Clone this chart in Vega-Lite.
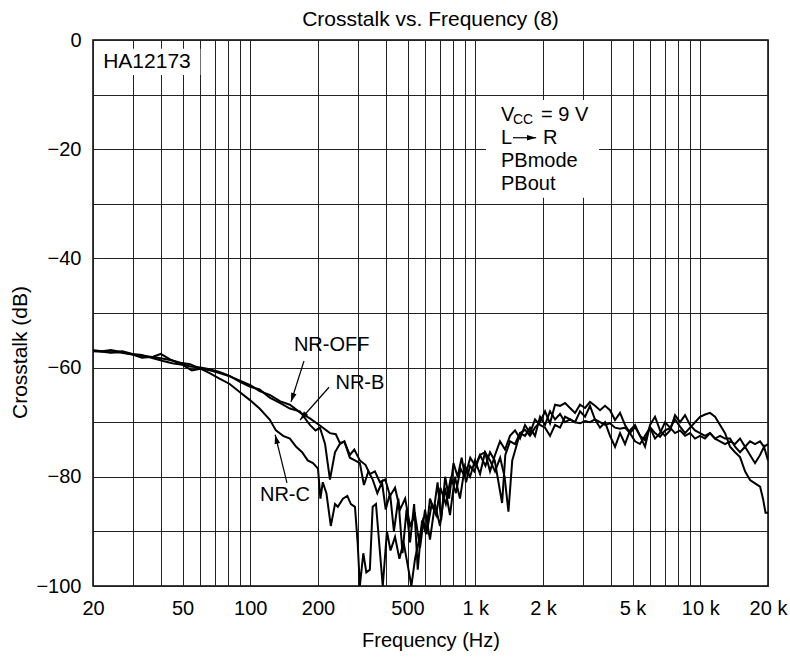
{
"$schema": "https://vega.github.io/schema/vega-lite/v6.json",
"width": 675, "height": 546,
"autosize": "none",
"padding": {"left": 93, "top": 40, "right": 22, "bottom": 76},
"background": "white",
"config": {
 "view": {"stroke": "black", "strokeWidth": 1.5},
 "font": "Liberation Sans",
 "axis": {"domain": false, "ticks": false, "gridColor": "#222", "gridOpacity": 1, "gridWidth": 1, "labelFont": "Liberation Sans", "labelFontSize": 20, "labelColor": "black", "titleFont": "Liberation Sans", "titleFontSize": 20, "titleFontWeight": "normal", "titleColor": "black"}
},
"title": {"text": "Crosstalk vs. Frequency (8)", "fontSize": 21, "fontWeight": "normal", "color": "black", "font": "Liberation Sans", "offset": 0, "anchor": "middle"},
"datasets": {
 "curves": [
{"s":"NR-OFF","f":20,"db":-57.0},{"s":"NR-OFF","f":22,"db":-57.1},{"s":"NR-OFF","f":24,"db":-57.3},{"s":"NR-OFF","f":26,"db":-57.2},{"s":"NR-OFF","f":29,"db":-57.5},{"s":"NR-OFF","f":32,"db":-57.8},{"s":"NR-OFF","f":36,"db":-58.0},{"s":"NR-OFF","f":40,"db":-58.3},{"s":"NR-OFF","f":44,"db":-58.6},{"s":"NR-OFF","f":49,"db":-59.1},{"s":"NR-OFF","f":54,"db":-59.4},{"s":"NR-OFF","f":60,"db":-60.2},{"s":"NR-OFF","f":66,"db":-60.5},{"s":"NR-OFF","f":73,"db":-61.0},{"s":"NR-OFF","f":81,"db":-61.6},{"s":"NR-OFF","f":90,"db":-62.4},{"s":"NR-OFF","f":100,"db":-63.2},{"s":"NR-OFF","f":110,"db":-64.3},{"s":"NR-OFF","f":122,"db":-65.0},{"s":"NR-OFF","f":136,"db":-66.2},{"s":"NR-OFF","f":150,"db":-66.8},{"s":"NR-OFF","f":166,"db":-68.2},{"s":"NR-OFF","f":184,"db":-69.3},{"s":"NR-OFF","f":204,"db":-70.6},{"s":"NR-OFF","f":226,"db":-72.0},{"s":"NR-OFF","f":240,"db":-72.2},{"s":"NR-OFF","f":250,"db":-73.8},{"s":"NR-OFF","f":262,"db":-73.6},{"s":"NR-OFF","f":277,"db":-76.0},{"s":"NR-OFF","f":290,"db":-75.0},{"s":"NR-OFF","f":307,"db":-77.0},{"s":"NR-OFF","f":325,"db":-77.8},{"s":"NR-OFF","f":340,"db":-79.5},{"s":"NR-OFF","f":358,"db":-79.0},{"s":"NR-OFF","f":377,"db":-81.0},{"s":"NR-OFF","f":398,"db":-80.5},{"s":"NR-OFF","f":418,"db":-83.5},{"s":"NR-OFF","f":440,"db":-82.0},{"s":"NR-OFF","f":463,"db":-86.0},{"s":"NR-OFF","f":488,"db":-84.0},{"s":"NR-OFF","f":513,"db":-89.0},{"s":"NR-OFF","f":540,"db":-87.0},{"s":"NR-OFF","f":568,"db":-93.0},{"s":"NR-OFF","f":598,"db":-86.0},{"s":"NR-OFF","f":629,"db":-91.5},{"s":"NR-OFF","f":662,"db":-85.0},{"s":"NR-OFF","f":697,"db":-89.0},{"s":"NR-OFF","f":734,"db":-82.0},{"s":"NR-OFF","f":772,"db":-87.0},{"s":"NR-OFF","f":812,"db":-80.0},{"s":"NR-OFF","f":855,"db":-84.0},{"s":"NR-OFF","f":900,"db":-78.0},{"s":"NR-OFF","f":948,"db":-80.0},{"s":"NR-OFF","f":997,"db":-77.0},{"s":"NR-OFF","f":1050,"db":-79.5},{"s":"NR-OFF","f":1105,"db":-75.5},{"s":"NR-OFF","f":1163,"db":-77.0},{"s":"NR-OFF","f":1224,"db":-79.0},{"s":"NR-OFF","f":1290,"db":-76.5},{"s":"NR-OFF","f":1350,"db":-80.0},{"s":"NR-OFF","f":1404,"db":-86.4},{"s":"NR-OFF","f":1460,"db":-77.0},{"s":"NR-OFF","f":1520,"db":-74.5},{"s":"NR-OFF","f":1581,"db":-72.0},{"s":"NR-OFF","f":1664,"db":-71.4},{"s":"NR-OFF","f":1751,"db":-72.5},{"s":"NR-OFF","f":1843,"db":-71.0},{"s":"NR-OFF","f":1940,"db":-70.0},{"s":"NR-OFF","f":2042,"db":-68.0},{"s":"NR-OFF","f":2149,"db":-70.2},{"s":"NR-OFF","f":2262,"db":-66.8},{"s":"NR-OFF","f":2381,"db":-67.0},{"s":"NR-OFF","f":2506,"db":-66.5},{"s":"NR-OFF","f":2637,"db":-67.4},{"s":"NR-OFF","f":2776,"db":-68.3},{"s":"NR-OFF","f":2921,"db":-66.8},{"s":"NR-OFF","f":3075,"db":-67.4},{"s":"NR-OFF","f":3236,"db":-66.3},{"s":"NR-OFF","f":3406,"db":-67.0},{"s":"NR-OFF","f":3585,"db":-67.8},{"s":"NR-OFF","f":3773,"db":-67.0},{"s":"NR-OFF","f":3971,"db":-67.8},{"s":"NR-OFF","f":4180,"db":-69.6},{"s":"NR-OFF","f":4399,"db":-68.3},{"s":"NR-OFF","f":4630,"db":-70.5},{"s":"NR-OFF","f":4873,"db":-72.0},{"s":"NR-OFF","f":5129,"db":-70.9},{"s":"NR-OFF","f":5398,"db":-72.5},{"s":"NR-OFF","f":5682,"db":-73.3},{"s":"NR-OFF","f":5980,"db":-70.9},{"s":"NR-OFF","f":6294,"db":-72.0},{"s":"NR-OFF","f":6625,"db":-72.7},{"s":"NR-OFF","f":6973,"db":-71.5},{"s":"NR-OFF","f":7339,"db":-71.1},{"s":"NR-OFF","f":7724,"db":-69.5},{"s":"NR-OFF","f":8130,"db":-70.8},{"s":"NR-OFF","f":8557,"db":-72.0},{"s":"NR-OFF","f":9006,"db":-71.0},{"s":"NR-OFF","f":9479,"db":-70.0},{"s":"NR-OFF","f":9977,"db":-69.0},{"s":"NR-OFF","f":10500,"db":-68.6},{"s":"NR-OFF","f":11052,"db":-68.3},{"s":"NR-OFF","f":11632,"db":-69.0},{"s":"NR-OFF","f":12243,"db":-70.5},{"s":"NR-OFF","f":12886,"db":-72.0},{"s":"NR-OFF","f":13563,"db":-74.5},{"s":"NR-OFF","f":14275,"db":-75.5},{"s":"NR-OFF","f":15024,"db":-76.4},{"s":"NR-OFF","f":15813,"db":-79.0},{"s":"NR-OFF","f":16644,"db":-80.6},{"s":"NR-OFF","f":17518,"db":-81.2},{"s":"NR-OFF","f":18438,"db":-81.8},{"s":"NR-OFF","f":19000,"db":-84.0},{"s":"NR-OFF","f":19500,"db":-86.6},{"s":"NR-OFF","f":20000,"db":-86.6},
{"s":"NR-B","f":20,"db":-56.9},{"s":"NR-B","f":22,"db":-57.0},{"s":"NR-B","f":24,"db":-56.8},{"s":"NR-B","f":27,"db":-57.2},{"s":"NR-B","f":30,"db":-57.6},{"s":"NR-B","f":33,"db":-58.2},{"s":"NR-B","f":37,"db":-58.0},{"s":"NR-B","f":40,"db":-57.5},{"s":"NR-B","f":44,"db":-58.5},{"s":"NR-B","f":49,"db":-59.3},{"s":"NR-B","f":54,"db":-59.8},{"s":"NR-B","f":60,"db":-60.0},{"s":"NR-B","f":66,"db":-60.3},{"s":"NR-B","f":73,"db":-60.8},{"s":"NR-B","f":81,"db":-61.5},{"s":"NR-B","f":90,"db":-62.6},{"s":"NR-B","f":100,"db":-63.5},{"s":"NR-B","f":110,"db":-64.0},{"s":"NR-B","f":122,"db":-65.5},{"s":"NR-B","f":136,"db":-66.5},{"s":"NR-B","f":150,"db":-67.5},{"s":"NR-B","f":166,"db":-68.0},{"s":"NR-B","f":184,"db":-70.5},{"s":"NR-B","f":195,"db":-71.5},{"s":"NR-B","f":204,"db":-71.0},{"s":"NR-B","f":215,"db":-74.0},{"s":"NR-B","f":226,"db":-80.5},{"s":"NR-B","f":238,"db":-75.5},{"s":"NR-B","f":250,"db":-74.0},{"s":"NR-B","f":262,"db":-73.5},{"s":"NR-B","f":277,"db":-76.5},{"s":"NR-B","f":292,"db":-77.0},{"s":"NR-B","f":307,"db":-77.5},{"s":"NR-B","f":320,"db":-81.5},{"s":"NR-B","f":335,"db":-79.0},{"s":"NR-B","f":350,"db":-80.5},{"s":"NR-B","f":367,"db":-83.0},{"s":"NR-B","f":385,"db":-81.0},{"s":"NR-B","f":400,"db":-86.0},{"s":"NR-B","f":418,"db":-83.0},{"s":"NR-B","f":435,"db":-90.0},{"s":"NR-B","f":455,"db":-84.0},{"s":"NR-B","f":475,"db":-94.0},{"s":"NR-B","f":495,"db":-86.0},{"s":"NR-B","f":513,"db":-92.0},{"s":"NR-B","f":535,"db":-85.0},{"s":"NR-B","f":555,"db":-97.0},{"s":"NR-B","f":580,"db":-88.0},{"s":"NR-B","f":605,"db":-90.5},{"s":"NR-B","f":629,"db":-84.0},{"s":"NR-B","f":655,"db":-86.0},{"s":"NR-B","f":680,"db":-81.0},{"s":"NR-B","f":705,"db":-88.0},{"s":"NR-B","f":735,"db":-80.0},{"s":"NR-B","f":765,"db":-84.0},{"s":"NR-B","f":800,"db":-77.5},{"s":"NR-B","f":835,"db":-80.0},{"s":"NR-B","f":870,"db":-76.5},{"s":"NR-B","f":910,"db":-81.0},{"s":"NR-B","f":948,"db":-78.0},{"s":"NR-B","f":990,"db":-79.0},{"s":"NR-B","f":1050,"db":-76.0},{"s":"NR-B","f":1110,"db":-78.0},{"s":"NR-B","f":1163,"db":-75.5},{"s":"NR-B","f":1220,"db":-77.0},{"s":"NR-B","f":1316,"db":-84.8},{"s":"NR-B","f":1360,"db":-76.0},{"s":"NR-B","f":1427,"db":-73.5},{"s":"NR-B","f":1502,"db":-74.0},{"s":"NR-B","f":1581,"db":-72.0},{"s":"NR-B","f":1664,"db":-72.5},{"s":"NR-B","f":1751,"db":-71.0},{"s":"NR-B","f":1843,"db":-72.5},{"s":"NR-B","f":1940,"db":-69.0},{"s":"NR-B","f":2042,"db":-70.5},{"s":"NR-B","f":2149,"db":-68.0},{"s":"NR-B","f":2262,"db":-69.5},{"s":"NR-B","f":2381,"db":-68.5},{"s":"NR-B","f":2506,"db":-70.0},{"s":"NR-B","f":2637,"db":-69.5},{"s":"NR-B","f":2776,"db":-70.0},{"s":"NR-B","f":2921,"db":-70.2},{"s":"NR-B","f":3075,"db":-69.8},{"s":"NR-B","f":3236,"db":-70.0},{"s":"NR-B","f":3406,"db":-69.5},{"s":"NR-B","f":3585,"db":-70.0},{"s":"NR-B","f":3773,"db":-70.5},{"s":"NR-B","f":3971,"db":-70.2},{"s":"NR-B","f":4180,"db":-71.0},{"s":"NR-B","f":4399,"db":-71.2},{"s":"NR-B","f":4630,"db":-71.0},{"s":"NR-B","f":4873,"db":-72.0},{"s":"NR-B","f":5129,"db":-73.5},{"s":"NR-B","f":5398,"db":-74.0},{"s":"NR-B","f":5682,"db":-72.5},{"s":"NR-B","f":5980,"db":-71.0},{"s":"NR-B","f":6294,"db":-73.0},{"s":"NR-B","f":6625,"db":-72.0},{"s":"NR-B","f":6973,"db":-70.0},{"s":"NR-B","f":7339,"db":-71.0},{"s":"NR-B","f":7724,"db":-72.0},{"s":"NR-B","f":8130,"db":-71.5},{"s":"NR-B","f":8557,"db":-72.5},{"s":"NR-B","f":9006,"db":-72.0},{"s":"NR-B","f":9479,"db":-73.0},{"s":"NR-B","f":9977,"db":-72.5},{"s":"NR-B","f":10500,"db":-73.0},{"s":"NR-B","f":11052,"db":-72.0},{"s":"NR-B","f":11632,"db":-73.0},{"s":"NR-B","f":12243,"db":-72.5},{"s":"NR-B","f":12886,"db":-73.0},{"s":"NR-B","f":13563,"db":-73.0},{"s":"NR-B","f":14275,"db":-74.5},{"s":"NR-B","f":15024,"db":-75.5},{"s":"NR-B","f":15813,"db":-74.5},{"s":"NR-B","f":16644,"db":-76.0},{"s":"NR-B","f":17518,"db":-77.5},{"s":"NR-B","f":18438,"db":-76.0},{"s":"NR-B","f":19200,"db":-74.5},{"s":"NR-B","f":20000,"db":-77.0},
{"s":"NR-C","f":20,"db":-56.8},{"s":"NR-C","f":22,"db":-57.0},{"s":"NR-C","f":24,"db":-57.2},{"s":"NR-C","f":27,"db":-57.0},{"s":"NR-C","f":30,"db":-57.5},{"s":"NR-C","f":33,"db":-57.7},{"s":"NR-C","f":37,"db":-58.3},{"s":"NR-C","f":41,"db":-58.8},{"s":"NR-C","f":45,"db":-59.2},{"s":"NR-C","f":50,"db":-59.5},{"s":"NR-C","f":55,"db":-60.5},{"s":"NR-C","f":60,"db":-60.2},{"s":"NR-C","f":66,"db":-61.0},{"s":"NR-C","f":73,"db":-62.0},{"s":"NR-C","f":81,"db":-63.0},{"s":"NR-C","f":90,"db":-64.5},{"s":"NR-C","f":100,"db":-66.0},{"s":"NR-C","f":110,"db":-67.5},{"s":"NR-C","f":122,"db":-69.5},{"s":"NR-C","f":130,"db":-71.5},{"s":"NR-C","f":140,"db":-72.5},{"s":"NR-C","f":150,"db":-73.0},{"s":"NR-C","f":160,"db":-74.5},{"s":"NR-C","f":170,"db":-75.5},{"s":"NR-C","f":180,"db":-77.0},{"s":"NR-C","f":190,"db":-77.5},{"s":"NR-C","f":200,"db":-78.5},{"s":"NR-C","f":205,"db":-84.0},{"s":"NR-C","f":210,"db":-81.0},{"s":"NR-C","f":218,"db":-83.0},{"s":"NR-C","f":228,"db":-89.0},{"s":"NR-C","f":238,"db":-85.0},{"s":"NR-C","f":245,"db":-85.5},{"s":"NR-C","f":258,"db":-84.0},{"s":"NR-C","f":270,"db":-83.5},{"s":"NR-C","f":280,"db":-85.0},{"s":"NR-C","f":292,"db":-85.5},{"s":"NR-C","f":300,"db":-92.0},{"s":"NR-C","f":307,"db":-100},{"s":"NR-C","f":318,"db":-94.0},{"s":"NR-C","f":328,"db":-97.5},{"s":"NR-C","f":340,"db":-97.0},{"s":"NR-C","f":350,"db":-85.5},{"s":"NR-C","f":362,"db":-85.0},{"s":"NR-C","f":388,"db":-100},{"s":"NR-C","f":405,"db":-90.0},{"s":"NR-C","f":420,"db":-93.5},{"s":"NR-C","f":440,"db":-91.0},{"s":"NR-C","f":460,"db":-95.0},{"s":"NR-C","f":480,"db":-92.0},{"s":"NR-C","f":500,"db":-96.0},{"s":"NR-C","f":520,"db":-100},{"s":"NR-C","f":540,"db":-95.0},{"s":"NR-C","f":560,"db":-92.0},{"s":"NR-C","f":585,"db":-88.0},{"s":"NR-C","f":610,"db":-90.0},{"s":"NR-C","f":640,"db":-85.0},{"s":"NR-C","f":670,"db":-87.0},{"s":"NR-C","f":700,"db":-82.0},{"s":"NR-C","f":740,"db":-85.0},{"s":"NR-C","f":780,"db":-80.0},{"s":"NR-C","f":820,"db":-83.0},{"s":"NR-C","f":860,"db":-78.5},{"s":"NR-C","f":900,"db":-80.0},{"s":"NR-C","f":950,"db":-76.5},{"s":"NR-C","f":1000,"db":-78.0},{"s":"NR-C","f":1050,"db":-76.0},{"s":"NR-C","f":1105,"db":-75.5},{"s":"NR-C","f":1163,"db":-79.0},{"s":"NR-C","f":1224,"db":-76.0},{"s":"NR-C","f":1288,"db":-73.5},{"s":"NR-C","f":1356,"db":-75.0},{"s":"NR-C","f":1427,"db":-72.5},{"s":"NR-C","f":1502,"db":-71.5},{"s":"NR-C","f":1581,"db":-73.0},{"s":"NR-C","f":1664,"db":-70.5},{"s":"NR-C","f":1751,"db":-72.0},{"s":"NR-C","f":1843,"db":-69.5},{"s":"NR-C","f":1940,"db":-70.5},{"s":"NR-C","f":2042,"db":-71.0},{"s":"NR-C","f":2149,"db":-72.5},{"s":"NR-C","f":2262,"db":-70.5},{"s":"NR-C","f":2381,"db":-71.0},{"s":"NR-C","f":2506,"db":-69.0},{"s":"NR-C","f":2637,"db":-69.5},{"s":"NR-C","f":2776,"db":-70.0},{"s":"NR-C","f":2921,"db":-68.0},{"s":"NR-C","f":3075,"db":-69.0},{"s":"NR-C","f":3236,"db":-67.0},{"s":"NR-C","f":3406,"db":-69.5},{"s":"NR-C","f":3585,"db":-71.0},{"s":"NR-C","f":3773,"db":-70.0},{"s":"NR-C","f":3971,"db":-72.5},{"s":"NR-C","f":4180,"db":-74.5},{"s":"NR-C","f":4399,"db":-72.0},{"s":"NR-C","f":4630,"db":-74.0},{"s":"NR-C","f":4873,"db":-71.5},{"s":"NR-C","f":5129,"db":-70.5},{"s":"NR-C","f":5398,"db":-72.5},{"s":"NR-C","f":5682,"db":-74.5},{"s":"NR-C","f":5980,"db":-70.5},{"s":"NR-C","f":6294,"db":-69.0},{"s":"NR-C","f":6625,"db":-71.5},{"s":"NR-C","f":6973,"db":-72.5},{"s":"NR-C","f":7339,"db":-71.5},{"s":"NR-C","f":7724,"db":-68.7},{"s":"NR-C","f":8130,"db":-70.0},{"s":"NR-C","f":8557,"db":-68.7},{"s":"NR-C","f":9006,"db":-70.5},{"s":"NR-C","f":9479,"db":-71.5},{"s":"NR-C","f":9977,"db":-72.0},{"s":"NR-C","f":10500,"db":-72.5},{"s":"NR-C","f":11052,"db":-72.0},{"s":"NR-C","f":11632,"db":-73.0},{"s":"NR-C","f":12243,"db":-73.5},{"s":"NR-C","f":12886,"db":-74.0},{"s":"NR-C","f":13563,"db":-73.5},{"s":"NR-C","f":14275,"db":-74.0},{"s":"NR-C","f":15024,"db":-73.0},{"s":"NR-C","f":15813,"db":-74.5},{"s":"NR-C","f":16644,"db":-73.5},{"s":"NR-C","f":17518,"db":-74.0},{"s":"NR-C","f":18438,"db":-73.5},{"s":"NR-C","f":19200,"db":-74.5},{"s":"NR-C","f":20000,"db":-74.0}
 ],
 "boxes": [
  {"id":"ha","f":21.5,"f2":60,"db":-1.6,"db2":-6.4},
  {"id":"cond","f":1116,"f2":3549,"db":-11.0,"db2":-28.9}
 ],
 "arrows": [
  {"id":"off","f":173.3,"db":-58.8,"f2":151.7,"db2":-66.3},
  {"id":"b","f":223.9,"db":-63.6,"f2":166.4,"db2":-69.6},
  {"id":"c","f":145.6,"db":-81.1,"f2":129,"db2":-72.3},
  {"id":"lr","f":1471,"db":-17.9,"f2":1865,"db2":-17.9}
 ],
 "labels": [
  {"t":"NR-OFF","f":230,"db":-55.9},
  {"t":"NR-B","f":307,"db":-62.8},
  {"t":"NR-C","f":142.6,"db":-83.3}
 ],
 "lefttext": [
  {"t":"V","f":1301,"db":-13.7},
  {"t":"= 9 V","f":1960,"db":-13.7},
  {"t":"L","f":1301,"db":-17.9},
  {"t":"R","f":2000,"db":-17.9},
  {"t":"PBmode","f":1301,"db":-22.2},
  {"t":"PBout","f":1301,"db":-26.4}
 ],
 "bigtext": [
  {"t":"HA12173","f":22.2,"db":-4.0}
 ],
 "subs": [
  {"t":"CC","f":1471,"db":-14.6}
 ]
},
"layer": [
 {
  "data": {"name": "curves"},
  "mark": {"type": "line", "color": "black", "strokeWidth": 2, "clip": true},
  "encoding": {
   "x": {"field": "f", "type": "quantitative",
    "scale": {"type": "log", "domain": [20, 20000], "nice": false},
    "axis": {"values": [20,30,40,50,60,70,80,90,100,200,300,400,500,600,700,800,900,1000,2000,3000,4000,5000,6000,7000,8000,9000,10000,20000],
     "labelExpr": "datum.value==20?'20':datum.value==50?'50':datum.value==100?'100':datum.value==200?'200':datum.value==500?'500':datum.value==1000?'1 k':datum.value==2000?'2 k':datum.value==5000?'5 k':datum.value==10000?'10 k':datum.value==20000?'20 k':''",
     "labelOverlap": false, "labelFlush": false, "labelBound": false, "labelPadding": 12,
     "title": "Frequency (Hz)", "titleY": 54, "titleBaseline": "middle"}},
   "y": {"field": "db", "type": "quantitative",
    "scale": {"domain": [-100, 0], "nice": false, "zero": false},
    "axis": {"values": [-100,-90,-80,-70,-60,-50,-40,-30,-20,-10,0],
     "labelExpr": "datum.value % 20 == 0 ? (datum.value < 0 ? '\u2212' + abs(datum.value) : '0') : ''",
     "labelOverlap": false, "labelFlush": false, "labelBound": false, "labelPadding": 12,
     "title": "Crosstalk (dB)", "titleX": -73, "titleY": 312, "titleAlign": "center", "titleBaseline": "middle", "titleAngle": -90, "titleFontSize": 21}},
   "detail": {"field": "s", "type": "nominal"}
  }
 },
 {
  "data": {"name": "boxes"},
  "mark": {"type": "rect", "fill": "white"},
  "encoding": {
   "x": {"field": "f", "type": "quantitative"}, "x2": {"field": "f2"},
   "y": {"field": "db", "type": "quantitative"}, "y2": {"field": "db2"}
  }
 },
 {
  "data": {"name": "arrows"},
  "mark": {"type": "rule", "color": "black", "strokeWidth": 1.2},
  "encoding": {
   "x": {"field": "f", "type": "quantitative"}, "x2": {"field": "f2"},
   "y": {"field": "db", "type": "quantitative"}, "y2": {"field": "db2"}
  }
 },
 {
  "data": {"name": "arrows"},
  "transform": [{"filter": "datum.id == 'off'"}],
  "mark": {"type": "point", "shape": "M0,0L-0.4,1.3L0.4,1.3Z", "filled": true, "color": "black", "opacity": 1, "size": 200, "angle": 198},
  "encoding": {"x": {"field": "f2", "type": "quantitative"}, "y": {"field": "db2", "type": "quantitative"}}
 },
 {
  "data": {"name": "arrows"},
  "transform": [{"filter": "datum.id == 'b'"}],
  "mark": {"type": "point", "shape": "M0,0L-0.4,1.3L0.4,1.3Z", "filled": true, "color": "black", "opacity": 1, "size": 200, "angle": 221},
  "encoding": {"x": {"field": "f2", "type": "quantitative"}, "y": {"field": "db2", "type": "quantitative"}}
 },
 {
  "data": {"name": "arrows"},
  "transform": [{"filter": "datum.id == 'c'"}],
  "mark": {"type": "point", "shape": "M0,0L-0.4,1.3L0.4,1.3Z", "filled": true, "color": "black", "opacity": 1, "size": 200, "angle": 346},
  "encoding": {"x": {"field": "f2", "type": "quantitative"}, "y": {"field": "db2", "type": "quantitative"}}
 },
 {
  "data": {"name": "arrows"},
  "transform": [{"filter": "datum.id == 'lr'"}],
  "mark": {"type": "point", "shape": "M0,0L-0.4,1.3L0.4,1.3Z", "filled": true, "color": "black", "opacity": 1, "size": 200, "angle": 90},
  "encoding": {"x": {"field": "f2", "type": "quantitative"}, "y": {"field": "db2", "type": "quantitative"}}
 },
 {
  "data": {"name": "labels"},
  "mark": {"type": "text", "fontSize": 20, "font": "Liberation Sans", "color": "black", "align": "center", "baseline": "middle"},
  "encoding": {"x": {"field": "f", "type": "quantitative"}, "y": {"field": "db", "type": "quantitative"}, "text": {"field": "t"}}
 },
 {
  "data": {"name": "lefttext"},
  "mark": {"type": "text", "fontSize": 20, "font": "Liberation Sans", "color": "black", "align": "left", "baseline": "middle"},
  "encoding": {"x": {"field": "f", "type": "quantitative"}, "y": {"field": "db", "type": "quantitative"}, "text": {"field": "t"}}
 },
 {
  "data": {"name": "bigtext"},
  "mark": {"type": "text", "fontSize": 21, "font": "Liberation Sans", "color": "black", "align": "left", "baseline": "middle"},
  "encoding": {"x": {"field": "f", "type": "quantitative"}, "y": {"field": "db", "type": "quantitative"}, "text": {"field": "t"}}
 },
 {
  "data": {"name": "subs"},
  "mark": {"type": "text", "fontSize": 14, "font": "Liberation Sans", "color": "black", "align": "left", "baseline": "middle"},
  "encoding": {"x": {"field": "f", "type": "quantitative"}, "y": {"field": "db", "type": "quantitative"}, "text": {"field": "t"}}
 }
]
}
